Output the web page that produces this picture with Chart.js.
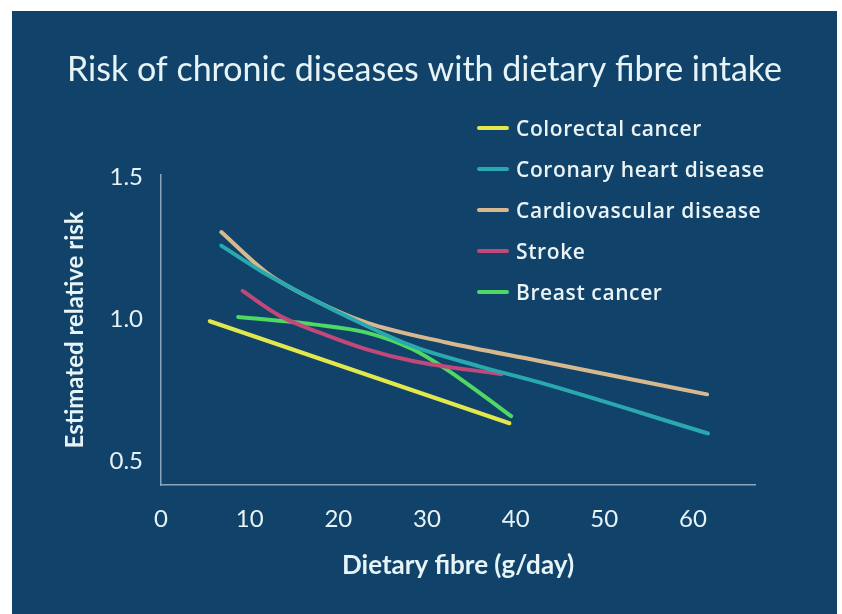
<!DOCTYPE html>
<html>
<head>
<meta charset="utf-8">
<script src="https://cdn.jsdelivr.net/npm/chart.js@4"></script>
<style>
  html, body { margin: 0; padding: 0; background: #ffffff; }
  #panel {
    position: absolute; left: 12px; top: 11px;
    width: 825px; height: 603px;
    background: #11436a;
  }
  #chart { position: absolute; left: 0; top: 0; }
  #legend {
    position: absolute; left: 465px; top: 96px;
    font-family: "Open Sans", sans-serif; font-weight: 600;
    font-size: 21px; letter-spacing: 0.6px; color: #eaf4f7;
  }
  #legend .row { height: 41px; display: flex; align-items: center; }
  #legend .mark { width: 32px; height: 4px; border-radius: 2px; margin-right: 7px; }
</style>
</head>
<body>
<div id="panel">
  <canvas id="chart" width="825" height="603"></canvas>
  <div id="legend"></div>
</div>
<script>
// 데이터
const seriesNames = ["Colorectal cancer", "Coronary heart disease", "Cardiovascular disease", "Stroke", "Breast cancer"];
const seriesColors = ["#e2e84c", "#29a9ae", "#d8b98f", "#c2487a", "#4fd862"];

const colorectalX = [5.5, 39.3];
const colorectalY = [0.993, 0.633];

const coronaryX = [6.8, 11.5, 17.1, 20.9, 28.4, 35.9, 42.7, 61.7];
const coronaryY = [1.26, 1.166, 1.071, 1.011, 0.905, 0.834, 0.777, 0.597];

const cardioX = [6.8, 11.9, 17.1, 23.2, 32.2, 42.7, 61.6];
const cardioY = [1.308, 1.165, 1.071, 0.988, 0.918, 0.853, 0.735];

const strokeX = [9.2, 13.4, 17.9, 23.2, 28.4, 38.4];
const strokeY = [1.10, 1.012, 0.953, 0.894, 0.853, 0.806];

const breastX = [8.7, 17.2, 23.2, 28.4, 32.2, 35.9, 39.5];
const breastY = [1.008, 0.982, 0.953, 0.894, 0.823, 0.741, 0.658];

const xTicks = [0, 10, 20, 30, 40, 50, 60];
const yTicks = [0.5, 1.0, 1.5];

const seriesX = [colorectalX, coronaryX, cardioX, strokeX, breastX];
const seriesY = [colorectalY, coronaryY, cardioY, strokeY, breastY];

const textColor = "#e6f3f7";
const axisColor = "#8aa6bd";

function toPoints(xs, ys) {
  return xs.map((x, i) => ({ x: x, y: ys[i] }));
}

const datasets = seriesNames.map((name, i) => ({
  label: name,
  data: toPoints(seriesX[i], seriesY[i]),
  borderColor: seriesColors[i],
  backgroundColor: seriesColors[i],
  borderWidth: 4,
  borderCapStyle: "round",
  pointRadius: 0,
  cubicInterpolationMode: "monotone",
  fill: false,
}));

// 범례 (HTML)
const legendEl = document.getElementById("legend");
seriesNames.forEach((name, i) => {
  const row = document.createElement("div");
  row.className = "row";
  const mark = document.createElement("span");
  mark.className = "mark";
  mark.style.background = seriesColors[i];
  const label = document.createElement("span");
  label.textContent = name;
  row.appendChild(mark);
  row.appendChild(label);
  legendEl.appendChild(row);
});

new Chart(document.getElementById("chart"), {
  type: "line",
  data: { datasets: datasets },
  options: {
    responsive: false,
    animation: false,
    layout: { padding: { left: 0, right: 0, top: 0, bottom: 29 } },
    plugins: {
      legend: { display: false },
      tooltip: { enabled: false },
      title: {
        display: true,
        text: "Risk of chronic diseases with dietary fibre intake",
        color: textColor,
        font: { family: "Lato", size: 34, weight: "normal" },
        padding: { top: 39, bottom: 84 },
      },
    },
    scales: {
      x: {
        type: "linear",
        min: 0,
        max: 67,
        afterBuildTicks: (scale) => {
          scale.ticks = xTicks.map((v) => ({ value: v }));
        },
        afterFit: (scale) => {
          scale.height = 100;
        },
        grid: { display: false, drawTicks: false },
        border: { display: true, color: axisColor, width: 1.5 },
        ticks: {
          color: textColor,
          font: { family: "Lato", size: 24 },
          padding: 20,
        },
        title: {
          display: true,
          text: "Dietary fibre (g/day)",
          color: textColor,
          font: { family: "Lato", size: 26, weight: "bold" },
          padding: { bottom: 4 },
        },
      },
      y: {
        type: "linear",
        min: 0.415,
        max: 1.51,
        afterBuildTicks: (scale) => {
          scale.ticks = yTicks.map((v) => ({ value: v }));
        },
        afterFit: (scale) => {
          scale.width = 149;
        },
        grid: { display: false, drawTicks: false },
        border: { display: true, color: axisColor, width: 1.5 },
        ticks: {
          color: textColor,
          font: { family: "Lato", size: 24 },
          padding: 18,
          callback: (v) => Number(v).toFixed(1),
        },
        title: {
          display: true,
          text: "Estimated relative risk",
          color: textColor,
          font: { family: "Lato", size: 24, weight: "bold" },
          padding: { top: 49 },
        },
      },
      // 오른쪽 여백용 빈 축
      yRight: {
        type: "linear",
        position: "right",
        min: 0.415,
        max: 1.51,
        afterFit: (scale) => {
          scale.width = 82;
        },
        grid: { display: false, drawTicks: false },
        border: { display: false },
        ticks: { display: false },
      },
    },
  },
});
</script>
</body>
</html>
